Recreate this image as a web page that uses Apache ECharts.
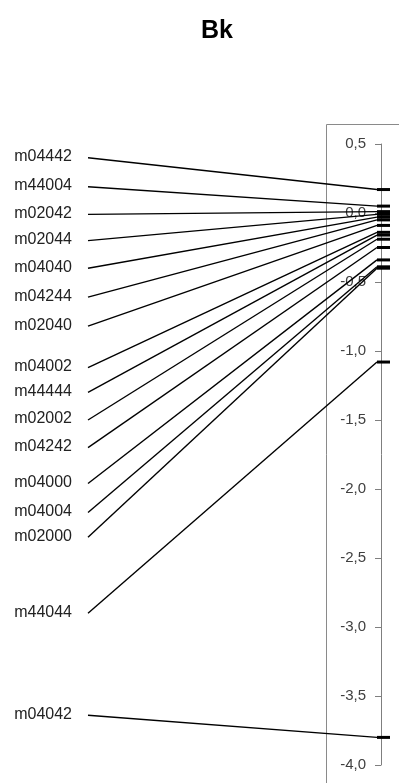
<!DOCTYPE html>
<html>
<head>
<meta charset="utf-8">
<script src="https://cdn.jsdelivr.net/npm/echarts@6/dist/echarts.min.js"></script>
<style>
  html, body { margin: 0; padding: 0; background: #fff; }
  #chart { width: 399px; height: 783px; }
</style>
</head>
<body>
<div id="chart"></div>
<script>
// Bk values, one per model, top to bottom
const names = ['m04442', 'm44004', 'm02042', 'm02044', 'm04040', 'm04244', 'm02040', 'm04002',
               'm44444', 'm02002', 'm04242', 'm04000', 'm04004', 'm02000', 'm44044', 'm04042'];
const values = [0.17, 0.05, 0.01, -0.01, -0.03, -0.05, -0.09, -0.14,
                -0.16, -0.19, -0.25, -0.34, -0.39, -0.40, -1.08, -3.80];
// where each name label sits, in units of the value axis
const labelAt = [0.40, 0.19, -0.01, -0.20, -0.40, -0.61, -0.82, -1.12,
                 -1.30, -1.50, -1.70, -1.96, -2.17, -2.35, -2.90, -3.64];
// value axis ticks
const axisMin = -4.0, axisMax = 0.5, axisStep = 0.5;

const LABEL_RIGHT = 72;   // right edge of the name labels
const LEAD_START = 88;    // where leader lines begin

const chart = echarts.init(document.getElementById('chart'), null, { renderer: 'canvas' });

chart.setOption({
  animation: false,
  title: {
    text: 'Bk',
    left: 196,
    top: 14,
    textStyle: { fontFamily: 'Liberation Sans, Arial, sans-serif', fontSize: 25, fontWeight: 'bold', color: '#000' }
  },
  graphic: [{
    type: 'rect',
    shape: { x: 326.5, y: 124.5, width: 120, height: 700 },
    style: { fill: 'none', stroke: '#8a8a8a', lineWidth: 1 },
    silent: true
  }],
  grid: { left: 381, top: 144, width: 12, height: 621 },
  xAxis: { type: 'value', min: 0, max: 1, show: false },
  yAxis: {
    type: 'value',
    position: 'left',
    min: axisMin,
    max: axisMax,
    interval: axisStep,
    axisLine: { show: true, lineStyle: { color: '#7f7f7f', width: 1 } },
    axisTick: { show: true, length: 6, lineStyle: { color: '#7f7f7f' } },
    splitLine: { show: false },
    axisLabel: {
      margin: 15,
      color: '#404040',
      fontFamily: 'Liberation Sans, Arial, sans-serif',
      fontSize: 15,
      formatter: v => v.toFixed(1).replace('.', ',')
    }
  },
  series: [{
    type: 'custom',
    clip: false,
    data: values.map((v, i) => [0, v, i]),
    renderItem: (params, api) => {
      const i = api.value(2);
      const p = api.coord([0, api.value(1)]);
      const q = api.coord([0, labelAt[i]]);
      return {
        type: 'group',
        children: [
          {
            type: 'line',
            shape: { x1: LEAD_START, y1: q[1], x2: p[0] - 4, y2: p[1] },
            style: { stroke: '#000', lineWidth: 1.4 }
          },
          {
            type: 'rect',
            shape: { x: p[0] - 4, y: p[1] - 1.5, width: 13, height: 3 },
            style: { fill: '#000' }
          },
          {
            type: 'text',
            x: LABEL_RIGHT,
            y: q[1] - 1,
            style: {
              text: names[i],
              align: 'right',
              verticalAlign: 'middle',
              fontFamily: 'Liberation Sans, Arial, sans-serif',
              fontSize: 16,
              fill: '#222'
            }
          }
        ]
      };
    }
  }]
});
</script>
</body>
</html>
